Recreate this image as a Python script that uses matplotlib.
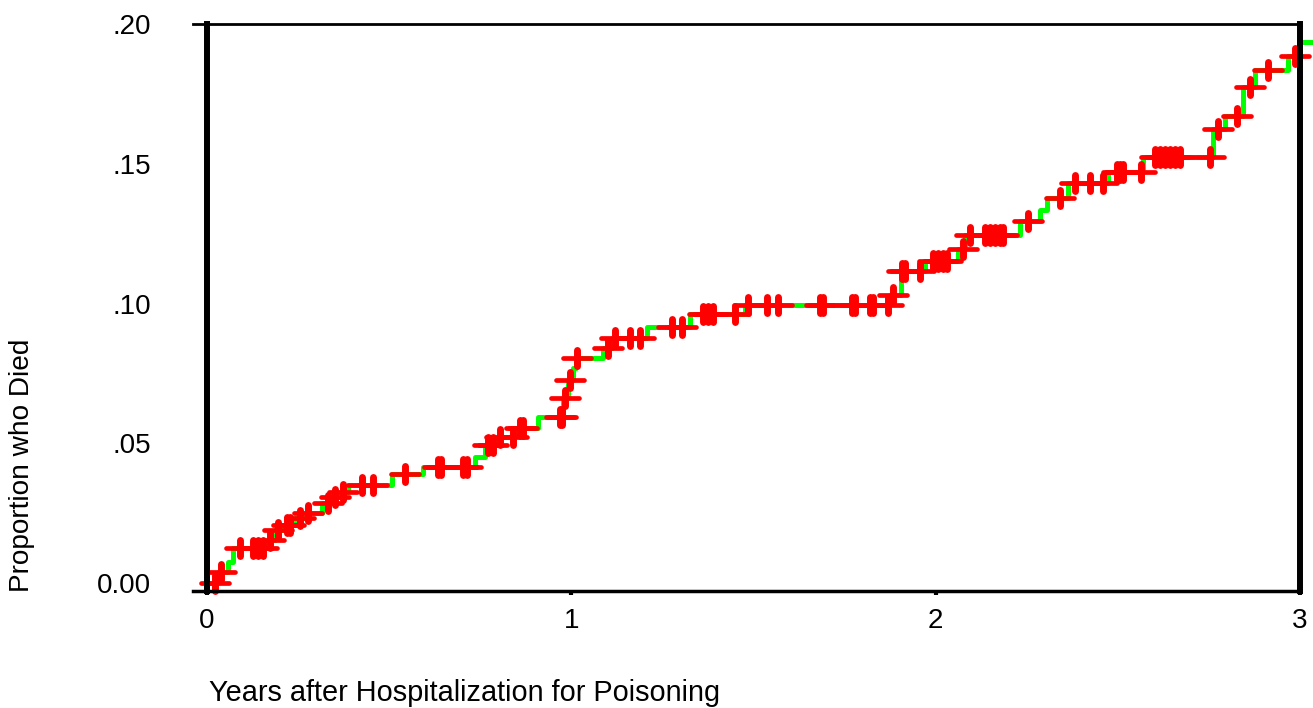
import numpy as np
import matplotlib
matplotlib.use('Agg')
from matplotlib import pyplot as plt
from matplotlib.path import Path
from matplotlib.markers import MarkerStyle

# event times (years) and cumulative proportion dead after each event
step_t = [0.0, 0.030, 0.058, 0.071, 0.167, 0.187, 0.214, 0.242, 0.269, 0.316,
          0.338, 0.365, 0.387, 0.508, 0.593, 0.736, 0.763, 0.799, 0.845, 0.909,
          0.977, 0.991, 1.005, 1.013, 1.087, 1.112, 1.208, 1.326, 1.477, 1.875,
          1.905, 1.971, 2.061, 2.081, 2.232, 2.287, 2.306, 2.363, 2.473, 2.569,
          2.761, 2.794, 2.844, 2.877, 2.967, 3.000, 3.036]
step_p = [0.0, 0.0040, 0.0075, 0.0125, 0.0154, 0.0190, 0.0208, 0.0233, 0.0251, 0.0287,
          0.0308, 0.0326, 0.0351, 0.0391, 0.0416, 0.0452, 0.0495, 0.0523, 0.0556, 0.0595,
          0.0663, 0.0728, 0.0771, 0.0806, 0.0842, 0.0878, 0.0918, 0.0961, 0.0996, 0.1032,
          0.1118, 0.1154, 0.1194, 0.1244, 0.1294, 0.1333, 0.1376, 0.1430, 0.1470, 0.1523,
          0.1624, 0.1670, 0.1774, 0.1835, 0.1885, 0.1935, 0.1935]

# censored cases (years)
censor_t = [0.022, 0.038, 0.091, 0.126, 0.140, 0.154, 0.173, 0.195, 0.220, 0.228,
            0.255, 0.277, 0.332, 0.351, 0.373, 0.425, 0.456, 0.544, 0.634, 0.642,
            0.703, 0.714, 0.771, 0.785, 0.804, 0.840, 0.859, 0.867, 0.969, 0.974,
            0.983, 0.996, 1.016, 1.101, 1.120, 1.161, 1.189, 1.276, 1.304, 1.362,
            1.375, 1.389, 1.449, 1.485, 1.537, 1.567, 1.683, 1.691, 1.771, 1.779,
            1.820, 1.828, 1.869, 1.883, 1.908, 1.916, 1.957, 1.993, 2.007, 2.020,
            2.031, 2.075, 2.094, 2.136, 2.149, 2.163, 2.177, 2.185, 2.254, 2.341,
            2.383, 2.424, 2.460, 2.498, 2.506, 2.514, 2.564, 2.602, 2.616, 2.630,
            2.643, 2.657, 2.671, 2.753, 2.775, 2.827, 2.863, 2.912, 2.987]

x_ticks = [0, 1, 2, 3]
y_ticks = [0.0, 0.05, 0.10, 0.15, 0.20]
y_labels = ['0.00', '.05', '.10', '.15', '.20']

plt.rcParams['font.family'] = ['Liberation Sans', 'DejaVu Sans']

fig = plt.figure(figsize=(13.13, 7.08), dpi=100)
ax = fig.add_axes([207 / 1313, 1 - 591 / 708, (1300 - 207) / 1313, (591 - 24) / 708])

st = np.asarray(step_t)
sp = np.asarray(step_p)
ct = np.asarray(censor_t)
cp = sp[np.searchsorted(st, ct, side='right') - 1]

ax.step(st, sp, where='post', color='#00ff00', lw=3.6, clip_on=False, zorder=2)

# censor mark: wide thin horizontal arm plus short thick vertical arm
hbar = MarkerStyle(Path([(-1, 0), (1, 0)], [Path.MOVETO, Path.LINETO]), capstyle='round')
vbar = MarkerStyle(Path([(0, -1), (0, 1)], [Path.MOVETO, Path.LINETO]), capstyle='round')
ax.plot(ct, cp, ls='none', marker=hbar, markersize=19.5, mew=3.4,
        color='#ff0000', clip_on=False, zorder=3)
ax.plot(ct, cp, ls='none', marker=vbar, markersize=11, mew=5,
        color='#ff0000', clip_on=False, zorder=3)

ax.set_xlim(0, 3)
ax.set_ylim(-0.0028, 0.20)
ax.set_xticks(x_ticks)
ax.set_xticklabels([str(v) for v in x_ticks])
ax.set_yticks(y_ticks)
ax.set_yticklabels(y_labels)
ax.tick_params(axis='x', direction='out', length=3, width=3, pad=9, labelsize=20)
ax.tick_params(axis='y', length=0, pad=40, labelsize=20)

ax.spines['left'].set_linewidth(4.3)
ax.spines['right'].set_linewidth(4.3)
ax.spines['top'].set_linewidth(2.0)
ax.spines['bottom'].set_linewidth(2.5)
for s in ax.spines.values():
    s.set_zorder(4)

# short leftward extensions of the top and bottom frame lines
ax.plot([-0.013, 0], [1, 1], transform=ax.transAxes, color='black', lw=2.0, clip_on=False)
ax.plot([-0.013, 0], [0, 0], transform=ax.transAxes, color='black', lw=2.5, clip_on=False)

fig.text(209 / 1313, 1 - 693 / 708, 'Years after Hospitalization for Poisoning',
         fontsize=20.8, ha='left', va='center')
fig.text(22 / 1313, 1 - 465 / 708, 'Proportion who Died', fontsize=20.2,
         rotation=90, ha='center', va='center')

fig.savefig('out.png', dpi=100)
